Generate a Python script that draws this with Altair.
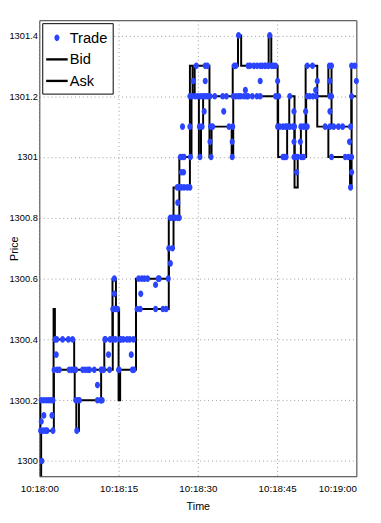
import altair as alt
import pandas as pd

# ---- axis ticks ----
x_tick_values = [0, 15, 30, 45, 60]
x_tick_labels = ["10:18:00", "10:18:15", "10:18:30", "10:18:45", "10:19:00"]
y_tick_values = [1300.0, 1300.2, 1300.4, 1300.6, 1300.8, 1301.0, 1301.2, 1301.4]

# ---- bid / ask step series (seconds after 10:18:00, price) ----
bid_t = [0.0, 0.35, 2.75, 6.7, 7.0, 7.5, 11.7, 13.9, 15.0, 15.3, 18.3, 24.5, 25.4, 26.5,
         28.5, 28.8, 30.2, 30.6, 31.0, 32.2, 32.6, 36.4, 36.7, 45.2, 46.9, 48.3, 48.9,
         50.5, 52.6, 54.7, 58.8, 59.1, 60.0]
bid_p = [1299.9, 1300.1, 1300.3, 1300.2, 1300.1, 1300.2, 1300.3, 1300.5, 1300.2, 1300.3,
         1300.5, 1300.7, 1300.8, 1300.9, 1301.0, 1301.2, 1301.0, 1301.1, 1301.2, 1301.0,
         1301.1, 1301.0, 1301.2, 1301.0, 1301.1, 1300.9, 1301.0, 1301.2, 1301.1, 1301.0,
         1300.9, 1301.2, 1301.2]

ask_t = [0.0, 0.2, 2.7, 2.95, 6.6, 12.3, 13.85, 14.5, 15.1, 18.3, 24.5, 25.4, 26.5, 28.5,
         29.0, 29.4, 32.2, 36.6, 37.6, 38.2, 43.4, 43.9, 45.1, 47.3, 48.3, 49.5, 50.4,
         52.6, 54.7, 55.3, 59.05, 60.0]
ask_p = [1300.1, 1300.2, 1300.5, 1300.4, 1300.3, 1300.4, 1300.6, 1300.5, 1300.4, 1300.6,
         1300.8, 1300.9, 1301.0, 1301.3, 1301.2, 1301.3, 1301.2, 1301.3, 1301.4, 1301.3,
         1301.4, 1301.3, 1301.1, 1301.2, 1301.0, 1301.1, 1301.3, 1301.2, 1301.3, 1301.1,
         1301.3, 1301.3]

# ---- trades ----
trade_t = [0.49, 0.25, 0.74, 1.17, 1.47, 2.58, 0.86, 2.4, 0.37, 0.37, 0.86, 1.35, 1.78, 2.21, 2.58,
           3.0, 3.3, 4.4, 5.5, 6.3, 3.2, 2.8, 3.4, 3.8, 5.65, 6.1, 6.5, 6.9,
           6.9, 7.3, 7.6, 11.0, 11.6, 11.9, 7.1, 8.2, 8.7, 9.2, 9.5, 10.4, 11.8, 12.2, 11.0,
           13.1, 12.4, 13.4, 13.9, 14.4, 13.9, 14.3, 14.2, 14.2, 14.6, 14.8, 15.3, 15.9, 16.6,
           17.1, 17.8, 15.0, 15.1, 17.6, 17.9, 17.4, 12.5, 13.3, 11.7, 11.7, 15.4,
           18.5, 19.1, 19.2, 18.8, 19.4, 19.9, 20.5, 22.7, 24.4, 22.0, 22.0, 23.4, 24.0, 22.5,
           24.8, 24.5, 25.2, 24.8, 25.2, 25.7, 26.2, 26.5, 26.2, 26.1, 26.5, 26.9, 27.4, 28.0,
           28.5, 26.9, 27.3, 26.7, 27.1, 27.4, 28.6,
           30.4, 32.5, 36.5, 32.3, 36.5, 27.1, 28.5, 30.3, 30.8, 32.4, 32.8, 35.9, 36.6, 31.2, 34.9,
           28.5, 28.9, 29.5, 30.0, 30.5, 31.0, 31.4, 31.8, 32.3, 33.2, 34.7, 35.4, 36.7, 37.2,
           37.7, 38.1, 38.7, 39.2, 39.5, 40.3, 41.2, 41.8,
           29.1, 31.4, 41.8, 39.0,
           29.7, 31.4, 31.8, 36.9, 37.2, 39.5, 39.9, 40.6, 41.2, 41.8, 42.2, 42.7, 43.4, 44.0,
           37.7, 43.6,
           42.8, 43.3, 44.3, 44.7, 45.1, 44.7, 45.3, 47.4,
           45.1, 45.5, 46.1, 46.6, 46.9, 47.4, 48.0, 48.3, 49.5, 50.0, 50.4, 50.7, 54.1, 55.0,
           55.7, 56.6, 57.4, 58.9,
           46.1, 46.4, 46.7, 48.2, 48.6, 48.9, 49.6, 50.0, 55.3, 57.9, 58.5, 59.1,
           48.2, 50.4, 55.0, 48.2, 49.4, 58.7, 48.7, 59.1, 58.9,
           50.7, 51.2, 51.8, 52.4, 55.0, 55.3, 59.1,
           50.7, 51.7, 54.9, 55.3, 59.1, 59.7,
           52.6, 55.0, 60.0, 52.3]
trade_p = [1300.0, 1300.1, 1300.1, 1300.1, 1300.1, 1300.1, 1300.15, 1300.15, 1300.13, 1300.2,
           1300.2, 1300.2, 1300.2, 1300.2, 1300.2,
           1300.4, 1300.4, 1300.4, 1300.4, 1300.4, 1300.35, 1300.3, 1300.3, 1300.3, 1300.3,
           1300.3, 1300.3, 1300.3,
           1300.2, 1300.2, 1300.2, 1300.2, 1300.2, 1300.2, 1300.1, 1300.3, 1300.3, 1300.3,
           1300.3, 1300.3, 1300.3, 1300.3, 1300.25,
           1300.35, 1300.4, 1300.4, 1300.4, 1300.4, 1300.5, 1300.5, 1300.55, 1300.6, 1300.5,
           1300.5, 1300.4, 1300.4, 1300.4, 1300.4, 1300.4, 1300.3, 1300.3, 1300.3, 1300.3,
           1300.35, 1300.4, 1300.3, 1300.3, 1300.2, 1300.4,
           1300.5, 1300.5, 1300.55, 1300.6, 1300.6, 1300.6, 1300.6, 1300.6, 1300.6, 1300.58,
           1300.5, 1300.5, 1300.5, 1300.6,
           1300.65, 1300.7, 1300.7, 1300.8, 1300.8, 1300.8, 1300.8, 1300.8, 1300.85, 1300.9,
           1300.9, 1300.9, 1300.9, 1300.9, 1300.9, 1300.95, 1300.95, 1301.0, 1301.0, 1301.0,
           1301.0,
           1301.0, 1301.0, 1301.0, 1301.05, 1301.05, 1301.1, 1301.1, 1301.1, 1301.1, 1301.1,
           1301.1, 1301.1, 1301.1, 1301.15, 1301.15,
           1301.2, 1301.2, 1301.2, 1301.2, 1301.2, 1301.2, 1301.2, 1301.2, 1301.2, 1301.2,
           1301.2, 1301.2, 1301.2, 1301.2, 1301.2, 1301.2, 1301.2, 1301.2, 1301.2, 1301.2,
           1301.2, 1301.2,
           1301.25, 1301.25, 1301.25, 1301.22,
           1301.3, 1301.3, 1301.3, 1301.3, 1301.3, 1301.3, 1301.3, 1301.3, 1301.3, 1301.3,
           1301.3, 1301.3, 1301.3, 1301.3,
           1301.4, 1301.4,
           1301.3, 1301.3, 1301.3, 1301.3, 1301.25, 1301.2, 1301.2, 1301.2,
           1301.1, 1301.1, 1301.1, 1301.1, 1301.1, 1301.1, 1301.1, 1301.1, 1301.1, 1301.1,
           1301.1, 1301.1, 1301.1, 1301.1, 1301.1, 1301.1, 1301.1, 1301.1,
           1301.0, 1301.0, 1301.0, 1301.0, 1301.0, 1301.0, 1301.0, 1301.0, 1301.0, 1301.0,
           1301.0, 1301.0,
           1301.15, 1301.15, 1301.15, 1301.05, 1301.05, 1301.05, 1300.95, 1300.95, 1300.9,
           1301.2, 1301.2, 1301.2, 1301.2, 1301.2, 1301.2, 1301.2,
           1301.3, 1301.3, 1301.3, 1301.3, 1301.3, 1301.3,
           1301.25, 1301.25, 1301.25, 1301.22]

series_names = ["Trade", "Bid", "Ask"]
series_colors = ["#2b45ff", "#000000", "#000000"]
dot_path = "M0.26,0A0.26,0.34 0 1,1 -0.26,0A0.26,0.34 0 1,1 0.26,0Z"
bar_path = "M-1.1,-0.12H1.1V0.12H-1.1Z"
series_shapes = [dot_path, bar_path, bar_path]

FONT = "Liberation Sans, Arial, sans-serif"

lines_df = pd.concat([
    pd.DataFrame({"series": "Bid", "t": bid_t, "price": bid_p}),
    pd.DataFrame({"series": "Ask", "t": ask_t, "price": ask_p}),
])
trade_df = pd.DataFrame({"series": "Trade", "t": trade_t, "price": trade_p})

label_expr = "[" + ",".join("'%s'" % s for s in x_tick_labels) + "][round(datum.value/15)]"
last_x = x_tick_values[-1]

x_enc = alt.X("t:Q",
              scale=alt.Scale(domain=[0, 60], nice=False, zero=False),
              axis=alt.Axis(values=x_tick_values, labelExpr=label_expr, title="Time",
                            grid=True, gridDash=[1, 3], gridColor="#9a9a9a", ticks=False,
                            domain=False, labelPadding=8, labelFontSize=10,
                            labelAlign={"condition": {"test": "datum.value >= %d" % last_x,
                                                      "value": "right"},
                                        "value": "center"},
                            titleFontSize=11, titleFontWeight="normal",
                            titleY=25, titleBaseline="top"))
y_enc = alt.Y("price:Q",
              scale=alt.Scale(domain=[1299.95, 1301.45], nice=False, zero=False),
              axis=alt.Axis(values=y_tick_values, format=".6~g", title="Price",
                            grid=True, gridDash=[1, 3], gridColor="#9a9a9a", ticks=False,
                            domain=False, labelPadding=2, labelFontSize=9.5,
                            titleFontSize=11, titleFontWeight="normal",
                            titleX=-20, titleY=233, titleAngle=270,
                            titleBaseline="bottom", titleAlign="center"))

legend = alt.Legend(title=None, orient="top-left", offset=3, strokeColor="black",
                    fillColor="white", padding=5, labelFont=FONT, labelFontSize=15,
                    labelColor="black", symbolSize=400, rowPadding=4, labelOffset=3,
                    symbolOpacity=1, symbolStrokeWidth=0)

lines = alt.Chart(lines_df).mark_line(
    interpolate="step-after", color="black", strokeWidth=2, clip=True
).encode(x=x_enc, y=y_enc, detail="series:N")

points = alt.Chart(trade_df).mark_point(filled=True, opacity=1, size=400).encode(
    x=x_enc, y=y_enc,
    color=alt.Color("series:N", scale=alt.Scale(domain=series_names, range=series_colors),
                    legend=legend),
    shape=alt.Shape("series:N", scale=alt.Scale(domain=series_names, range=series_shapes),
                    legend=legend),
)

chart = alt.layer(lines, points).properties(
    width=324, height=466,
    padding={"left": 32, "top": 7, "right": 17, "bottom": 30},
    autosize="none",
    background="white",
).configure_view(
    stroke="#333333", strokeWidth=1
).configure_axis(
    labelFont=FONT, titleFont=FONT, labelColor="black", titleColor="black"
)

chart.save("out.html", embed_options={"renderer": "svg", "actions": False})
